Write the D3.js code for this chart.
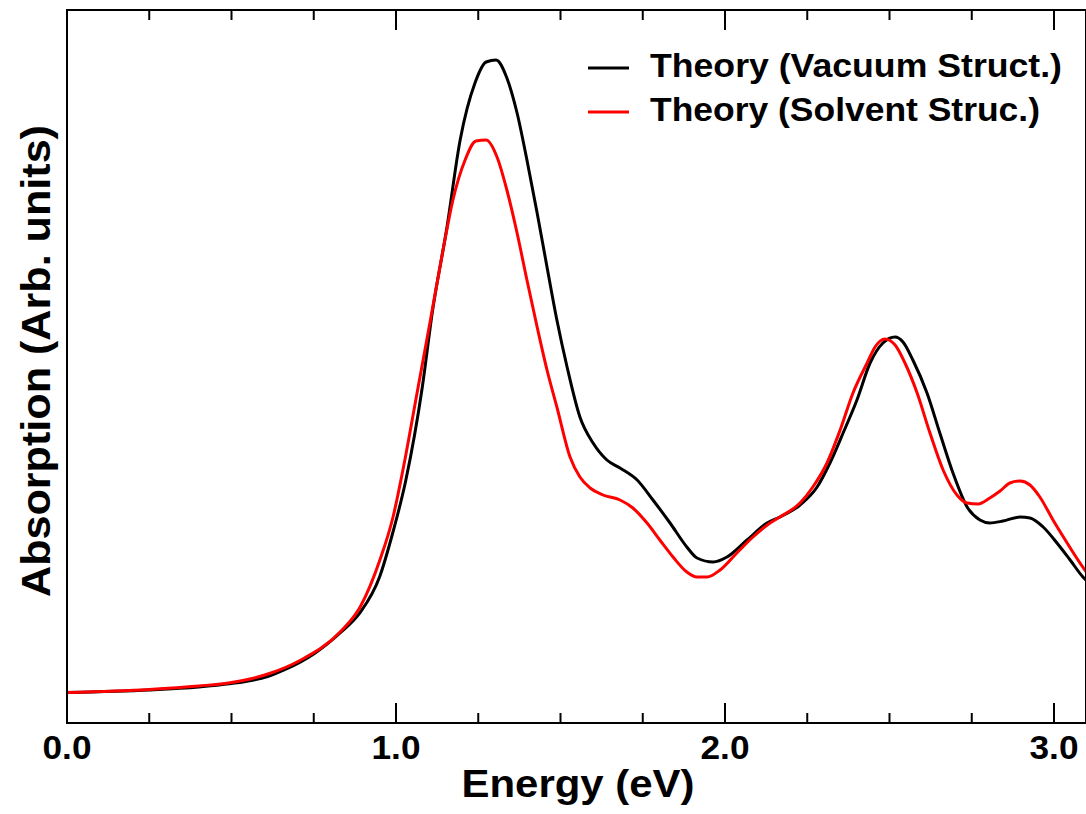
<!DOCTYPE html>
<html>
<head>
<meta charset="utf-8">
<script src="https://cdn.jsdelivr.net/npm/d3@7"></script>
<style>
  body { margin: 0; background: #fff; }
  svg { display: block; }
  text { font-family: "Liberation Sans", Arial, Helvetica, sans-serif; font-weight: bold; fill: #000; }
</style>
</head>
<body>
<div id="chart"></div>
<script>
// energy (eV) and absorption (arb. units)
var energyVac = [0.00,0.25,0.40,0.50,0.56,0.61,0.66,0.71,0.75,0.83,0.89,0.95,0.99,1.03,1.08,1.11,1.155,1.195,1.24,1.274,1.304,1.337,1.368,1.398,1.429,1.459,1.489,1.52,1.559,1.599,1.641,1.681,1.733,1.781,1.833,1.884,1.915,1.964,2.006,2.067,2.128,2.167,2.228,2.28,2.319,2.359,2.401,2.441,2.48,2.517,2.541,2.571,2.614,2.653,2.693,2.736,2.775,2.805,2.845,2.897,2.927,2.967,3.009,3.049,3.088,3.10];
var absVac = [0.305,0.33,0.36,0.395,0.425,0.465,0.53,0.61,0.69,0.90,1.10,1.46,1.90,2.43,3.36,4.10,4.96,5.83,6.40,6.61,6.63,6.45,6.10,5.63,5.10,4.56,4.03,3.56,3.06,2.80,2.63,2.55,2.43,2.23,2.00,1.76,1.65,1.61,1.66,1.83,2.00,2.06,2.18,2.36,2.60,2.90,3.23,3.60,3.80,3.86,3.81,3.63,3.30,2.90,2.50,2.16,2.03,2.00,2.02,2.06,2.05,1.96,1.80,1.63,1.46,1.42];

var energySol = [0.00,0.25,0.40,0.50,0.556,0.62,0.708,0.83,0.891,0.951,0.991,1.021,1.064,1.103,1.143,1.173,1.21,1.243,1.274,1.307,1.337,1.368,1.398,1.429,1.459,1.489,1.529,1.559,1.59,1.629,1.681,1.72,1.763,1.802,1.842,1.884,1.915,1.945,1.985,2.036,2.085,2.137,2.167,2.228,2.267,2.31,2.35,2.389,2.432,2.456,2.486,2.517,2.547,2.584,2.623,2.663,2.705,2.736,2.769,2.805,2.836,2.866,2.897,2.927,2.957,2.997,3.04,3.079,3.10];
var absSol = [0.305,0.335,0.37,0.405,0.44,0.50,0.625,0.91,1.16,1.63,2.06,2.53,3.30,4.00,4.73,5.23,5.63,5.82,5.83,5.66,5.33,4.90,4.43,3.96,3.53,3.16,2.66,2.46,2.35,2.28,2.23,2.15,2.00,1.83,1.66,1.51,1.46,1.46,1.53,1.70,1.86,2.00,2.06,2.20,2.36,2.60,2.93,3.30,3.60,3.76,3.84,3.78,3.60,3.30,2.90,2.53,2.28,2.20,2.19,2.25,2.32,2.40,2.42,2.38,2.26,2.03,1.80,1.60,1.50];

var seriesNames = ["Theory (Vacuum Struct.)", "Theory (Solvent Struc.)"];
var seriesColors = ["#000000", "#ff0000"];
var xMajorTicks = [0, 1, 2, 3];
var xTickLabels = ["0.0", "1.0", "2.0", "3.0"];
var xMinorTicks = [0.25, 0.5, 0.75, 1.25, 1.5, 1.75, 2.25, 2.5, 2.75];

var W = 1086, H = 814;
var margin = { top: 10, left: 67, right: 0, bottom: 91 };

var svg = d3.select("#chart").append("svg")
    .attr("width", W)
    .attr("height", H);

var x = d3.scaleLinear().domain([0, 3.1]).range([margin.left, margin.left + 3.1 * 329]);
var y = d3.scaleLinear().domain([0, 7.13]).range([H - margin.bottom, margin.top]);

var x0 = margin.left, x1 = W, y0 = margin.top, y1 = H - margin.bottom;

svg.append("clipPath").attr("id", "clip")
   .append("rect")
   .attr("x", x0).attr("y", y0)
   .attr("width", x1 - x0).attr("height", y1 - y0);

var line = d3.line()
    .x(function(d){ return x(d[0]); })
    .y(function(d){ return y(d[1]); })
    .curve(d3.curveMonotoneX);

var vac = energyVac.map(function(e, i){ return [e, absVac[i]]; });
var sol = energySol.map(function(e, i){ return [e, absSol[i]]; });

svg.append("g").attr("clip-path", "url(#clip)")
   .selectAll("path")
   .data([vac, sol])
   .enter().append("path")
   .attr("d", line)
   .attr("fill", "none")
   .attr("stroke", function(d, i){ return seriesColors[i]; })
   .attr("stroke-width", 3)
   .attr("stroke-linejoin", "round");

// ticks, bottom (pointing up) and top (pointing down)
var ticks = svg.append("g").attr("stroke", "#000").attr("stroke-width", 2);
xMajorTicks.forEach(function(t){
  ticks.append("line").attr("x1", x(t)).attr("x2", x(t)).attr("y1", y1).attr("y2", y1 - 20);
  ticks.append("line").attr("x1", x(t)).attr("x2", x(t)).attr("y1", y0).attr("y2", y0 + 20);
});
xMinorTicks.forEach(function(t){
  ticks.append("line").attr("x1", x(t)).attr("x2", x(t)).attr("y1", y1).attr("y2", y1 - 10);
  ticks.append("line").attr("x1", x(t)).attr("x2", x(t)).attr("y1", y0).attr("y2", y0 + 10);
});

// frame
svg.append("rect")
   .attr("x", x0).attr("y", y0)
   .attr("width", x1 - x0).attr("height", y1 - y0)
   .attr("fill", "none")
   .attr("stroke", "#000")
   .attr("stroke-width", 2);

// tick labels
svg.selectAll(".xlab")
   .data(xMajorTicks)
   .enter().append("text")
   .attr("class", "xlab")
   .attr("x", function(d){ return x(d); })
   .attr("y", 759)
   .attr("text-anchor", "middle")
   .attr("font-size", 33)
   .attr("textLength", 49)
   .attr("lengthAdjust", "spacingAndGlyphs")
   .text(function(d, i){ return xTickLabels[i]; });

// axis titles
svg.append("text")
   .attr("x", 578).attr("y", 797)
   .attr("text-anchor", "middle")
   .attr("font-size", 38)
   .attr("textLength", 233)
   .attr("lengthAdjust", "spacingAndGlyphs")
   .text("Energy (eV)");

svg.append("text")
   .attr("transform", "translate(50,361) rotate(-90)")
   .attr("text-anchor", "middle")
   .attr("font-size", 41)
   .attr("textLength", 472)
   .attr("lengthAdjust", "spacingAndGlyphs")
   .text("Absorption (Arb. units)");

// legend
var legendLen = [412, 390];
var leg = svg.append("g");
seriesNames.forEach(function(name, i){
  var ly = 68 + i * 44;
  leg.append("line")
     .attr("x1", 588).attr("x2", 629)
     .attr("y1", ly).attr("y2", ly)
     .attr("stroke", seriesColors[i])
     .attr("stroke-width", 3);
  leg.append("text")
     .attr("x", 650).attr("y", ly + 9)
     .attr("font-size", 33)
     .attr("textLength", legendLen[i])
     .attr("lengthAdjust", "spacingAndGlyphs")
     .text(name);
});
</script>
</body>
</html>
